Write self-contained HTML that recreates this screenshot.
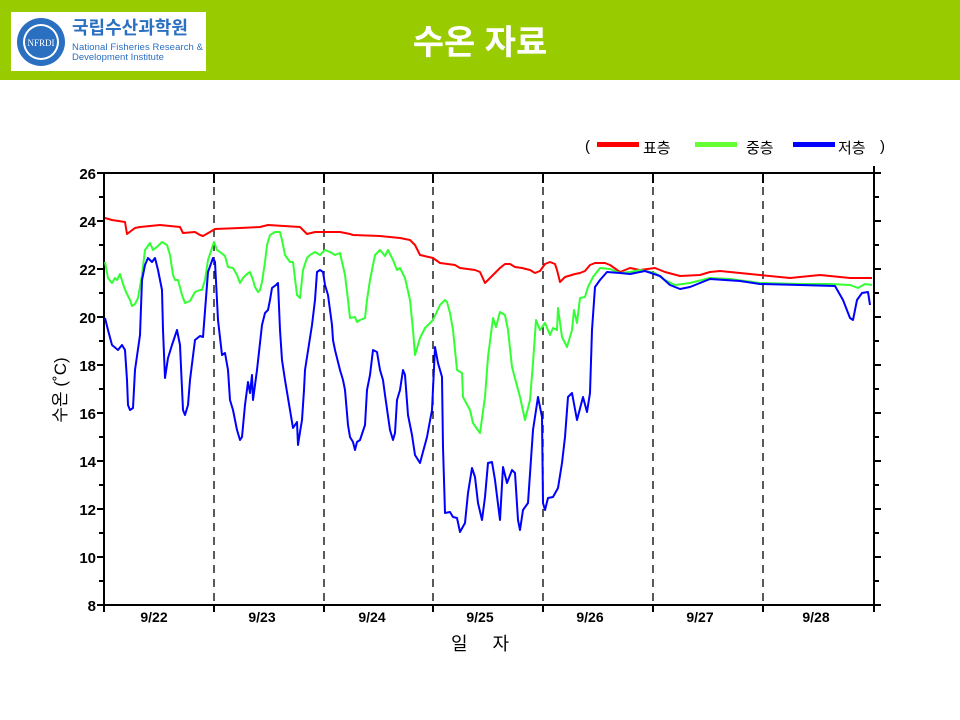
<!DOCTYPE html>
<html><head><meta charset="utf-8"><style>
body{margin:0;width:960px;height:720px;background:#fff;overflow:hidden;font-family:"Liberation Sans","Noto Sans CJK KR",sans-serif}
</style></head><body>
<svg width="960" height="720" xmlns="http://www.w3.org/2000/svg" style="position:absolute;left:0;top:0;font-family:'Liberation Sans','Noto Sans CJK KR',sans-serif">
<rect x="0" y="0" width="960" height="80" fill="#99cc00"/>
<rect x="11" y="12" width="195" height="59" fill="#fff"/>
<circle cx="41" cy="42" r="24" fill="#2a6fc0"/>
<circle cx="41" cy="42" r="18" fill="#fff"/>
<circle cx="41" cy="42" r="16" fill="#2a6fc0"/>
<text x="41" y="46" font-size="9" fill="#fff" text-anchor="middle" font-family="Liberation Serif,serif">NFRDI</text>
<text x="72" y="34" font-size="18" font-weight="bold" fill="#2a6fc0">국립수산과학원</text>
<text x="72" y="50" font-size="9.5" fill="#2a6fc0" textLength="131">National Fisheries Research &amp;</text>
<text x="72" y="60" font-size="9.5" fill="#2a6fc0">Development Institute</text>
<text x="480" y="54" font-size="34" font-weight="bold" fill="#fff" text-anchor="middle">수온 자료</text>

<!-- legend -->
<g font-size="15" fill="#000">
<text x="585" y="151">(</text>
<rect x="597" y="142" width="42" height="5" fill="#ff0000"/>
<text x="643" y="153">표층</text>
<rect x="695" y="142" width="42" height="5" fill="#66ff33"/>
<text x="746" y="153">중층</text>
<rect x="793" y="142" width="42" height="5" fill="#0000ff"/>
<text x="838" y="153">저층</text>
<text x="880" y="151">)</text>
</g>

<!-- axes -->
<g stroke="#000" stroke-width="1.3" stroke-dasharray="8,6">
<line x1="214" y1="173" x2="214" y2="605"/><line x1="324" y1="173" x2="324" y2="605"/>
<line x1="433" y1="173" x2="433" y2="605"/><line x1="543" y1="173" x2="543" y2="605"/>
<line x1="653" y1="173" x2="653" y2="605"/><line x1="763" y1="173" x2="763" y2="605"/>
</g>
<rect x="104" y="173" width="770" height="432" fill="none" stroke="#000" stroke-width="2"/>
<g stroke="#000" stroke-width="2">
<path d="M97 173h7M97 221h7M97 269h7M97 317h7M97 365h7M97 413h7M97 461h7M97 509h7M97 557h7M97 605h7"/>
<path d="M99 197h5M99 245h5M99 293h5M99 341h5M99 389h5M99 437h5M99 485h5M99 533h5M99 581h5"/>
<path d="M874 173h7M874 221h7M874 269h7M874 317h7M874 365h7M874 413h7M874 461h7M874 509h7M874 557h7M874 605h7"/>
<path d="M874 197h5M874 245h5M874 293h5M874 341h5M874 389h5M874 437h5M874 485h5M874 533h5M874 581h5"/>
<path d="M104 605v7M214 605v7M324 605v7M433 605v7M543 605v7M653 605v7M763 605v7M874 605v7"/>
<path d="M214 173v10M324 173v10M433 173v10M543 173v10M653 173v10M763 173v10M874 173v-7M874 173v10"/>
</g>
<g font-size="15" font-weight="bold" text-anchor="end">
<text x="96" y="179">26</text><text x="96" y="227">24</text><text x="96" y="275">22</text>
<text x="96" y="323">20</text><text x="96" y="371">18</text><text x="96" y="419">16</text>
<text x="96" y="467">14</text><text x="96" y="515">12</text><text x="96" y="563">10</text><text x="96" y="611">8</text>
</g>
<g font-size="14" font-weight="bold" text-anchor="middle">
<text x="154" y="622">9/22</text><text x="262" y="622">9/23</text><text x="372" y="622">9/24</text>
<text x="480" y="622">9/25</text><text x="590" y="622">9/26</text><text x="700" y="622">9/27</text><text x="816" y="622">9/28</text>
</g>
<text x="485" y="650" font-size="18" text-anchor="middle" letter-spacing="10">일 자</text>
<text transform="translate(66,390) rotate(-90)" font-size="17" text-anchor="middle">수온 (˚C)</text>

<g fill="none" stroke-width="2" stroke-linejoin="round">
<polyline stroke="#ff0000" points="105,218 112,220 125,222 127,234 135,228 140,227 150,226 160,225 170,226 180,227 183,233 195,232 200,235 203,236 210,232 215,229 240,228 260,227 268,225 300,227 307,234 315,232 340,232 350,234 353,235 380,236 400,238 410,240 415,245 420,255 433,258 440,263 455,265 460,268 475,270 480,272 485,283 488,280 492,276 500,268 505,264 510,264 515,267 522,268 530,270 535,273 540,271 545,264 550,262 555,264 557,270 560,282 565,277 575,274 580,273 585,271 590,265 595,263 605,263 610,265 620,272 630,268 640,270 655,268 665,272 680,276 700,275 710,272 720,271 740,273 760,275 790,278 820,275 850,278 872,278"/>
<polyline stroke="#33ff33" points="105,262 108,278 112,283 115,278 117,280 120,274 123,284 126,292 130,300 132,306 135,304 138,298 142,275 145,250 150,243 153,250 158,246 162,242 167,245 170,255 173,275 175,280 178,280 182,295 185,303 190,301 195,292 200,290 202,290 205,280 208,260 212,248 214,242 217,250 220,252 225,256 228,267 233,268 237,275 240,283 243,278 247,274 250,272 253,280 255,287 258,292 260,290 262,282 265,262 267,245 270,235 275,232 280,232 282,240 285,255 290,262 293,262 297,295 300,298 303,270 307,258 310,255 315,252 320,255 325,250 330,252 335,255 340,253 345,275 348,300 350,318 355,317 357,322 360,320 365,318 367,300 370,280 375,255 380,250 385,256 388,250 393,260 397,270 400,268 405,278 410,300 413,330 415,355 418,345 420,338 425,328 433,320 440,305 445,300 447,302 450,313 453,330 457,370 462,373 463,397 470,410 473,423 480,433 485,397 488,357 493,318 496,327 500,312 505,315 508,330 512,367 520,397 525,420 530,400 533,363 536,320 540,330 545,323 550,335 553,328 557,330 558,308 562,337 567,347 572,330 574,310 577,323 580,298 585,297 588,287 593,277 600,268 610,269 620,273 630,272 640,270 655,273 665,280 675,285 690,283 710,278 730,279 760,283 800,284 830,284 850,285 858,288 865,284 872,285"/>
<polyline stroke="#0000ff" points="105,318 108,330 112,345 118,350 122,345 125,350 127,380 128,405 130,410 133,408 135,370 140,335 142,280 145,265 148,258 152,262 155,258 158,270 162,290 163,330 165,378 168,358 172,345 177,330 180,345 183,410 185,415 188,405 190,380 195,340 200,336 203,337 208,272 213,258 215,262 218,320 222,355 225,353 228,370 230,400 233,410 237,430 240,440 242,437 245,405 248,382 250,393 252,375 253,400 257,370 262,325 265,313 268,310 270,300 272,288 276,285 278,283 280,330 282,360 285,380 290,410 293,428 297,422 298,445 300,432 302,420 304,390 305,370 312,325 315,300 317,272 320,270 323,272 325,285 328,295 332,325 333,340 335,350 340,370 343,380 345,390 348,425 350,437 353,442 355,450 357,442 360,440 365,425 367,390 370,375 373,350 377,352 380,370 383,380 385,395 390,430 393,440 395,433 397,400 400,390 403,370 405,375 408,415 412,435 415,455 420,463 427,437 432,410 435,347 438,363 442,377 443,447 445,513 450,512 453,517 457,518 460,532 465,523 468,493 472,468 475,477 478,503 482,520 485,497 488,463 492,462 495,480 500,520 503,467 507,483 512,470 515,473 518,520 520,530 523,510 528,503 533,430 538,397 542,417 543,503 545,510 548,498 553,497 558,488 562,463 565,437 568,397 572,393 577,420 583,397 587,412 590,393 592,330 595,287 600,280 607,272 620,273 630,274 645,271 660,276 670,285 680,289 690,287 710,279 740,281 760,284 800,285 835,286 843,300 850,318 853,320 857,300 862,293 868,292 870,305"/>
</g>
</svg>
</body></html>
